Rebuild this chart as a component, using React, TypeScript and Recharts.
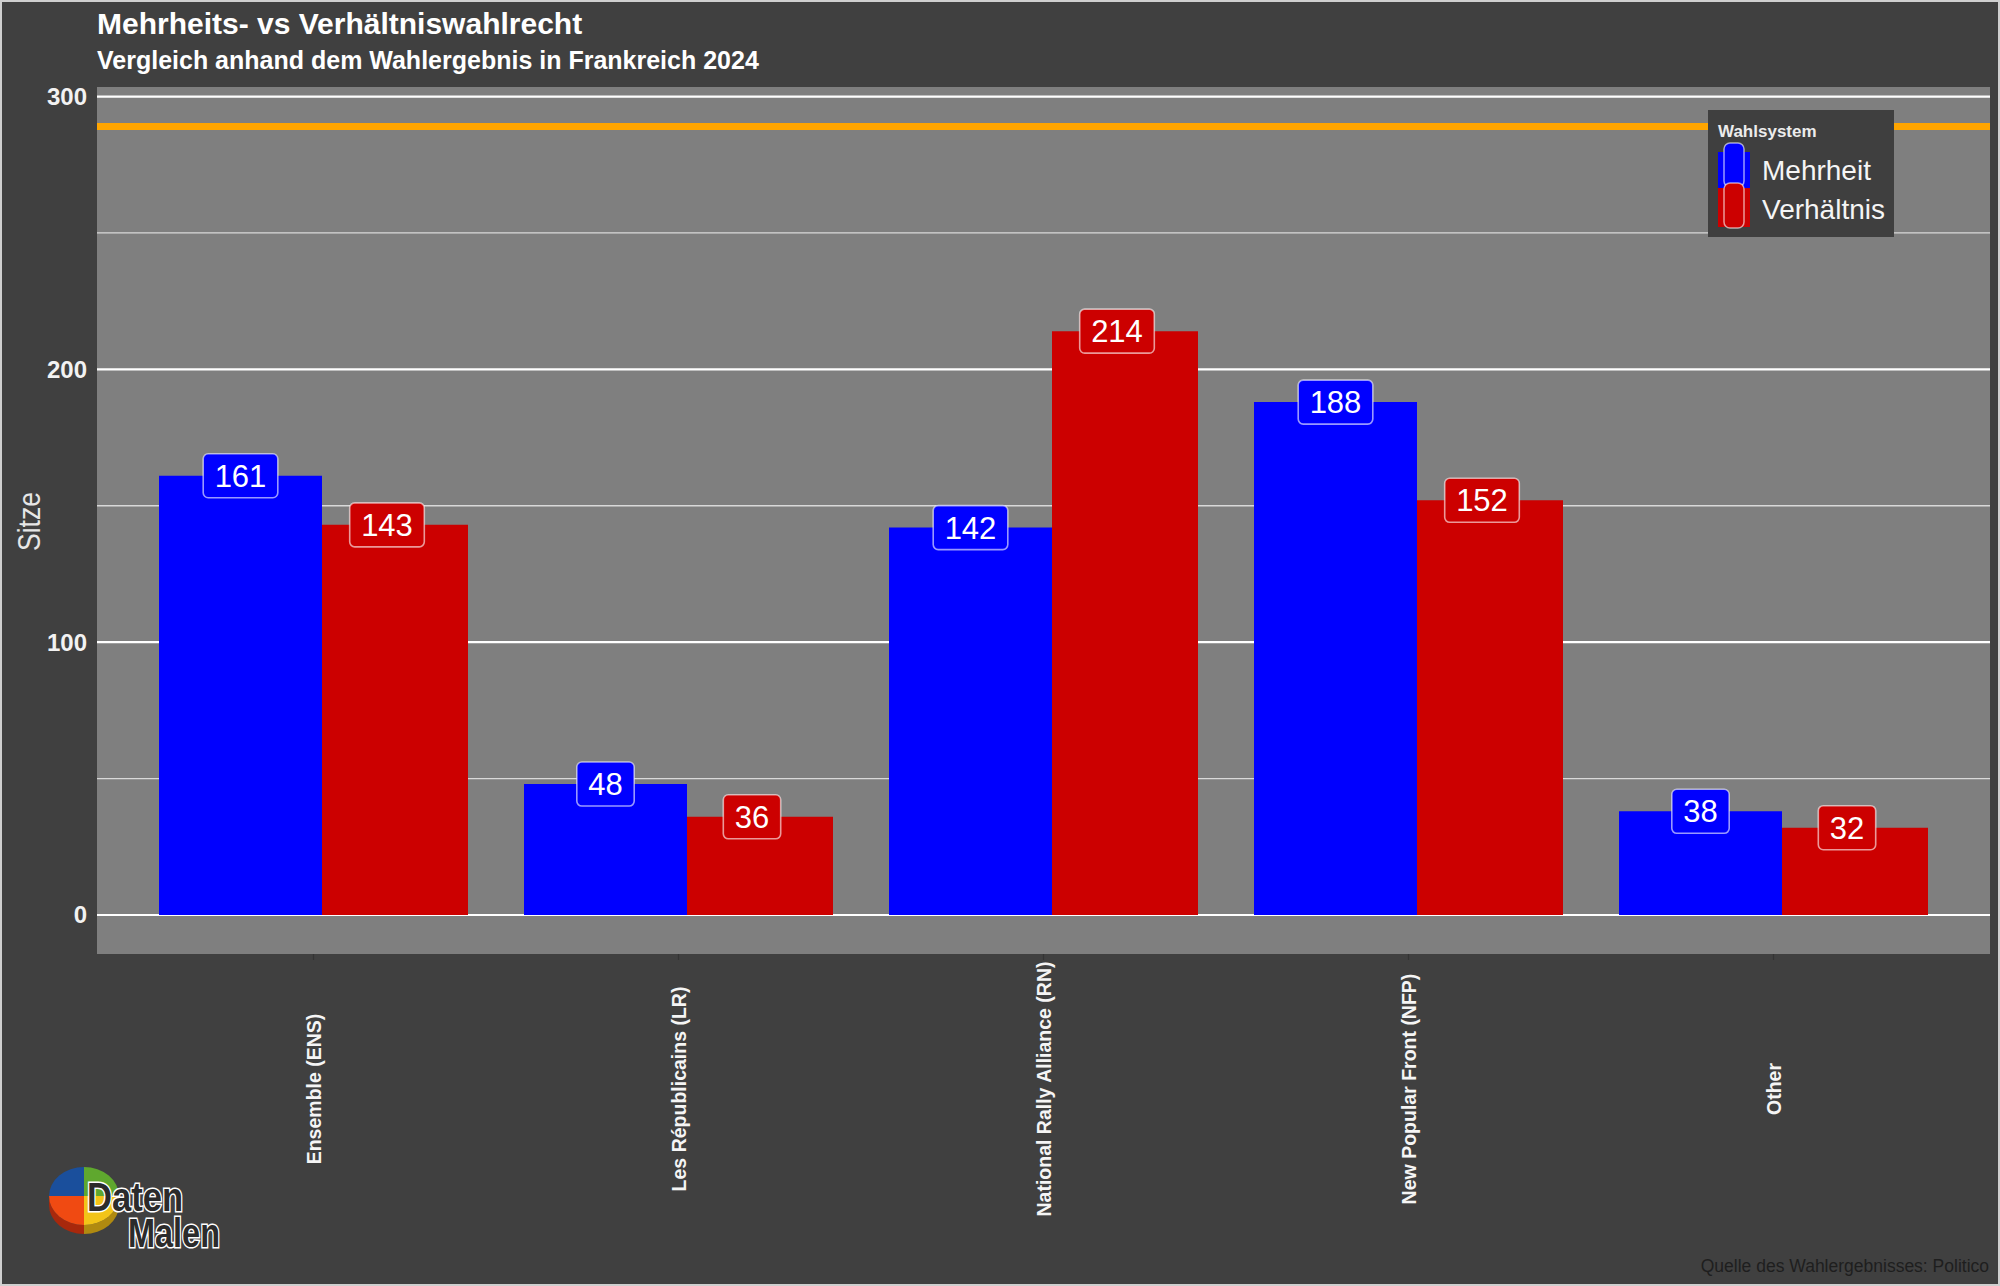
import React from 'react';
import {
  BarChart,
  Bar,
  XAxis,
  YAxis,
  CartesianGrid,
  ReferenceLine,
  LabelList,
  Legend,
} from 'recharts';

// ---------- data ----------
const parties = [
  'Ensemble (ENS)',
  'Les Républicains (LR)',
  'National Rally Alliance (RN)',
  'New Popular Front (NFP)',
  'Other',
];
const mehrheitSeats = [161, 48, 142, 188, 38];
const verhaeltnisSeats = [143, 36, 214, 152, 32];
const systems = ['Mehrheit', 'Verhältnis'];
const systemColors = ['#0000FF', '#CC0000'];
const majorTicks = [0, 100, 200, 300];
const minorTicks = [50, 150, 250];
const majorityLine = 289;
const yDomain: [number, number] = [-14.3, 303.5];

const titleText = 'Mehrheits- vs Verhältniswahlrecht';
const subtitleText = 'Vergleich anhand dem Wahlergebnis in Frankreich 2024';
const yAxisTitle = 'Sitze';
const legendTitle = 'Wahlsystem';
const captionText = 'Quelle des Wahlergebnisses: Politico';
const logoWords = ['Daten', 'Malen'];

const data = parties.map((name, i) => ({
  name,
  mehrheit: mehrheitSeats[i],
  verhaeltnis: verhaeltnisSeats[i],
}));

const FONT = '"Liberation Sans", Arial, Helvetica, sans-serif';
const NARROW = '"Liberation Sans Narrow", "Liberation Sans", Arial, sans-serif';

// ---------- renderers ----------
const makeLabel = (fill: string, shift: number) => (props: any) => {
  const { x, y, width, value } = props;
  const cx = Number(x) + Number(width) / 2 + shift;
  const cy = Number(y);
  const txt = String(value);
  const w = txt.length * 17.2 + 23;
  return (
    <g>
      <rect
        x={cx - w / 2}
        y={cy - 22}
        width={w}
        height={44}
        rx={5}
        ry={5}
        fill={fill}
        stroke="rgba(255,255,255,0.6)"
        strokeWidth={1.6}
      />
      <text
        x={cx}
        y={cy + 11}
        textAnchor="middle"
        fontSize={31}
        fontFamily={FONT}
        fill="#ffffff"
      >
        {txt}
      </text>
    </g>
  );
};

const YTick = (props: any) => {
  const { x, y, payload } = props;
  return (
    <text
      x={x}
      y={y}
      dy={8.5}
      textAnchor="end"
      fontSize={24}
      fontWeight="bold"
      fontFamily={FONT}
      fill="#f2f2f2"
    >
      {payload.value}
    </text>
  );
};

const XTick = (props: any) => {
  const { x, y, payload } = props;
  const bx = Number(x) + 7.5;
  const cy = Number(y) + 129;
  return (
    <text
      x={bx}
      y={cy}
      transform={`rotate(-90 ${bx} ${cy})`}
      textAnchor="middle"
      fontSize={19.5}
      fontWeight="bold"
      fontFamily={FONT}
      fill="#f5f5f5"
    >
      {payload.value}
    </text>
  );
};

const gridGen = (values: number[]) => (props: any) => {
  const s = props && props.yAxis && props.yAxis.scale;
  if (typeof s === 'function') return values.map((v) => s(v));
  const off = props.offset;
  return values.map(
    (v) => off.top + ((yDomain[1] - v) / (yDomain[1] - yDomain[0])) * off.height
  );
};

const LegendBox = () => (
  <svg width={186} height={127} style={{ display: 'block' }}>
    <rect x={0} y={0} width={186} height={127} fill="#3f3f3f" />
    <text x={10} y={27} fontSize={17} fontWeight="bold" fontFamily={FONT} fill="#ececec">
      {legendTitle}
    </text>
    <rect x={10} y={42} width={32} height={36} fill={systemColors[0]} />
    <rect
      x={16}
      y={33}
      width={20}
      height={44}
      rx={6}
      ry={6}
      fill={systemColors[0]}
      stroke="rgba(255,255,255,0.6)"
      strokeWidth={1.5}
    />
    <rect x={10} y={78} width={32} height={39} fill={systemColors[1]} />
    <rect
      x={16}
      y={73}
      width={20}
      height={45}
      rx={6}
      ry={6}
      fill={systemColors[1]}
      stroke="rgba(255,255,255,0.6)"
      strokeWidth={1.5}
    />
    <text x={54} y={70} fontSize={28} fontFamily={FONT} fill="#f5f5f5">
      {systems[0]}
    </text>
    <text x={54} y={109} fontSize={28} fontFamily={FONT} fill="#f5f5f5">
      {systems[1]}
    </text>
  </svg>
);

const Logo = () => {
  const cx = 84;
  const cy = 1196;
  const rx = 35;
  const ry = 29;
  const t = 9;
  return (
    <g>
      <path
        d={`M${cx - rx},${cy} A${rx},${ry} 0 0 0 ${cx},${cy + ry} L${cx},${cy + ry + t} A${rx},${ry} 0 0 1 ${cx - rx},${cy + t} Z`}
        fill="#a8280c"
      />
      <path
        d={`M${cx},${cy + ry} A${rx},${ry} 0 0 0 ${cx + rx},${cy} L${cx + rx},${cy + t} A${rx},${ry} 0 0 1 ${cx},${cy + ry + t} Z`}
        fill="#b08a10"
      />
      <path d={`M${cx},${cy} L${cx - rx},${cy} A${rx},${ry} 0 0 1 ${cx},${cy - ry} Z`} fill="#1a4f9c" />
      <path d={`M${cx},${cy} L${cx},${cy - ry} A${rx},${ry} 0 0 1 ${cx + rx},${cy} Z`} fill="#5fa82e" />
      <path d={`M${cx},${cy} L${cx + rx},${cy} A${rx},${ry} 0 0 1 ${cx},${cy + ry} Z`} fill="#f2c418" />
      <path d={`M${cx},${cy} L${cx},${cy + ry} A${rx},${ry} 0 0 1 ${cx - rx},${cy} Z`} fill="#f04a12" />
      <text
        fontSize={40}
        fontWeight="bold"
        fontFamily={NARROW}
        fill="#2b2b2b"
        stroke="#ffffff"
        strokeWidth={3}
        paintOrder="stroke"
      >
        <tspan x={87} y={1211} textLength={96} lengthAdjust="spacingAndGlyphs">
          {logoWords[0]}
        </tspan>
        <tspan x={128} y={1247} textLength={92} lengthAdjust="spacingAndGlyphs">
          {logoWords[1]}
        </tspan>
      </text>
    </g>
  );
};

export default function App() {
  return (
    <div
      style={{
        position: 'fixed',
        left: 0,
        top: 0,
        width: 2000,
        height: 1286,
        background: '#404040',
        overflow: 'hidden',
      }}
    >
      <BarChart
        width={2000}
        height={1286}
        data={data}
        margin={{ top: 87, right: 10, bottom: 82, left: 17 }}
        barGap={0}
      >
        <CartesianGrid
          vertical={false}
          fill="#7f7f7f"
          stroke="#d9d9d9"
          strokeWidth={1.3}
          horizontalCoordinatesGenerator={gridGen(minorTicks)}
        />
        <CartesianGrid
          vertical={false}
          stroke="#ffffff"
          strokeWidth={2.2}
          horizontalCoordinatesGenerator={gridGen(majorTicks)}
        />
        <XAxis
          dataKey="name"
          type="category"
          padding={{ left: 34, right: 34 }}
          height={250}
          axisLine={false}
          tickLine={{ stroke: '#333333', strokeWidth: 1.2 }}
          tickSize={6}
          tickMargin={0}
          tick={<XTick />}
          interval={0}
        />
        <YAxis
          type="number"
          domain={yDomain}
          allowDataOverflow
          ticks={majorTicks}
          width={80}
          axisLine={false}
          tickLine={false}
          tickSize={0}
          tickMargin={10}
          tick={<YTick />}
        />
        <ReferenceLine y={majorityLine} stroke="#FFA500" strokeWidth={7} />
        <Bar
          dataKey="mehrheit"
          name={systems[0]}
          fill={systemColors[0]}
          barSize={163}
          isAnimationActive={false}
        >
          <LabelList dataKey="mehrheit" content={makeLabel(systemColors[0], 0)} />
        </Bar>
        <Bar
          dataKey="verhaeltnis"
          name={systems[1]}
          fill={systemColors[1]}
          barSize={146}
          isAnimationActive={false}
        >
          <LabelList dataKey="verhaeltnis" content={makeLabel(systemColors[1], -8)} />
        </Bar>
        <Legend
          layout="vertical"
          align="center"
          verticalAlign="middle"
          width={186}
          height={127}
          content={() => <LegendBox />}
          wrapperStyle={{ position: 'absolute', left: 1708, top: 110, width: 186, height: 127 }}
        />
      </BarChart>
      <svg
        width={2000}
        height={1286}
        style={{ position: 'absolute', left: 0, top: 0, pointerEvents: 'none' }}
      >
        <text x={97} y={33.5} fontSize={30} fontWeight="bold" fontFamily={FONT} fill="#ffffff">
          {titleText}
        </text>
        <text x={97} y={69} fontSize={25} fontWeight="bold" fontFamily={FONT} fill="#ffffff">
          {subtitleText}
        </text>
        <text
          x={40}
          y={521.5}
          transform="rotate(-90 40 521.5)"
          textAnchor="middle"
          fontSize={32}
          fontFamily={FONT}
          textLength={59}
          lengthAdjust="spacingAndGlyphs"
          fill="#e6e6e6"
        >
          {yAxisTitle}
        </text>
        <text x={1989} y={1272} textAnchor="end" fontSize={17.5} fontFamily={FONT} fill="#1e1e1e">
          {captionText}
        </text>
        <Logo />
        <rect x={1} y={1} width={1998} height={1284} fill="none" stroke="#cfcfcf" strokeWidth={2} />
      </svg>
    </div>
  );
}
